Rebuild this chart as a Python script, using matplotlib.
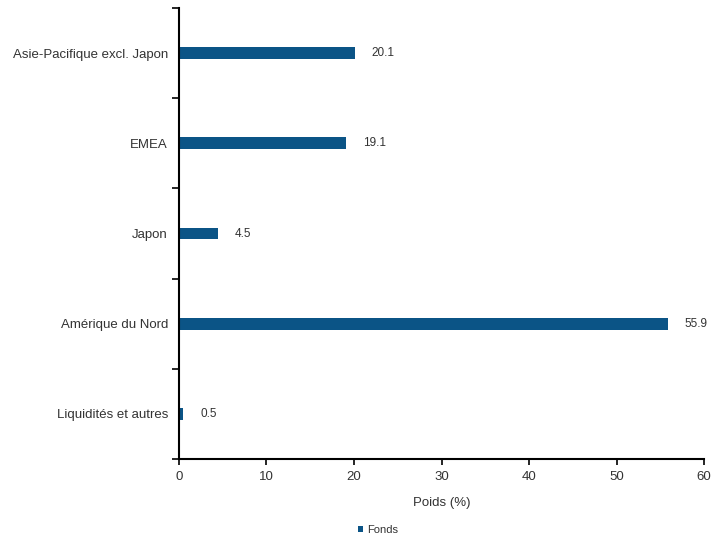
import matplotlib
matplotlib.use("Agg")
import matplotlib.pyplot as plt

plt.rcParams['font.family'] = ['Liberation Sans', 'DejaVu Sans']

categories = ['Asie-Pacifique excl. Japon', 'EMEA', 'Japon', 'Amérique du Nord', 'Liquidités et autres']
values = [20.1, 19.1, 4.5, 55.9, 0.5]
xticks = [0, 10, 20, 30, 40, 50, 60]

color = '#0b5486'
text_color = '#333333'

fig = plt.figure(figsize=(7.27, 5.37), dpi=100)
ax = fig.add_axes([0.2462, 0.1453, 0.7222, 0.8397])

ypos = list(range(len(categories)))[::-1]
bars = ax.barh(ypos, values, height=0.13, color=color, label='Fonds')

for y, v in zip(ypos, values):
    ax.annotate(f'{v:.1f}', (v, y), xytext=(12, 0), textcoords='offset points',
                va='center', ha='left', fontsize=8.5, color=text_color)

ax.set_xlim(0, 60)
ax.set_ylim(-0.5, 4.5)
ax.set_xticks(xticks)
ax.set_xticklabels([str(t) for t in xticks], fontsize=9.5, color=text_color)

ax.set_yticks([i - 0.5 for i in range(len(categories) + 1)])
ax.set_yticklabels([])
ax.set_yticks(ypos, minor=True)
ax.set_yticklabels(categories, minor=True, fontsize=9.5, color=text_color)
ax.tick_params(axis='y', which='minor', length=0, pad=8)
ax.tick_params(axis='y', which='major', length=5, width=1.2, direction='out')
ax.tick_params(axis='x', length=4, width=1.2, direction='out', pad=5)

for s in ['top', 'right']:
    ax.spines[s].set_visible(False)
for s in ['left', 'bottom']:
    ax.spines[s].set_linewidth(1.5)
    ax.spines[s].set_color('black')

ax.set_xlabel('Poids (%)', fontsize=9.5, color=text_color, labelpad=10)

leg = fig.legend(handles=[bars], labels=['Fonds'], loc='center', bbox_to_anchor=(0.52, 0.013),
                 frameon=False, fontsize=8, handlelength=0.4, handleheight=0.4,
                 handletextpad=0.4, markerscale=0.5)
for t in leg.get_texts():
    t.set_color(text_color)

fig.savefig('out.png', dpi=100)
